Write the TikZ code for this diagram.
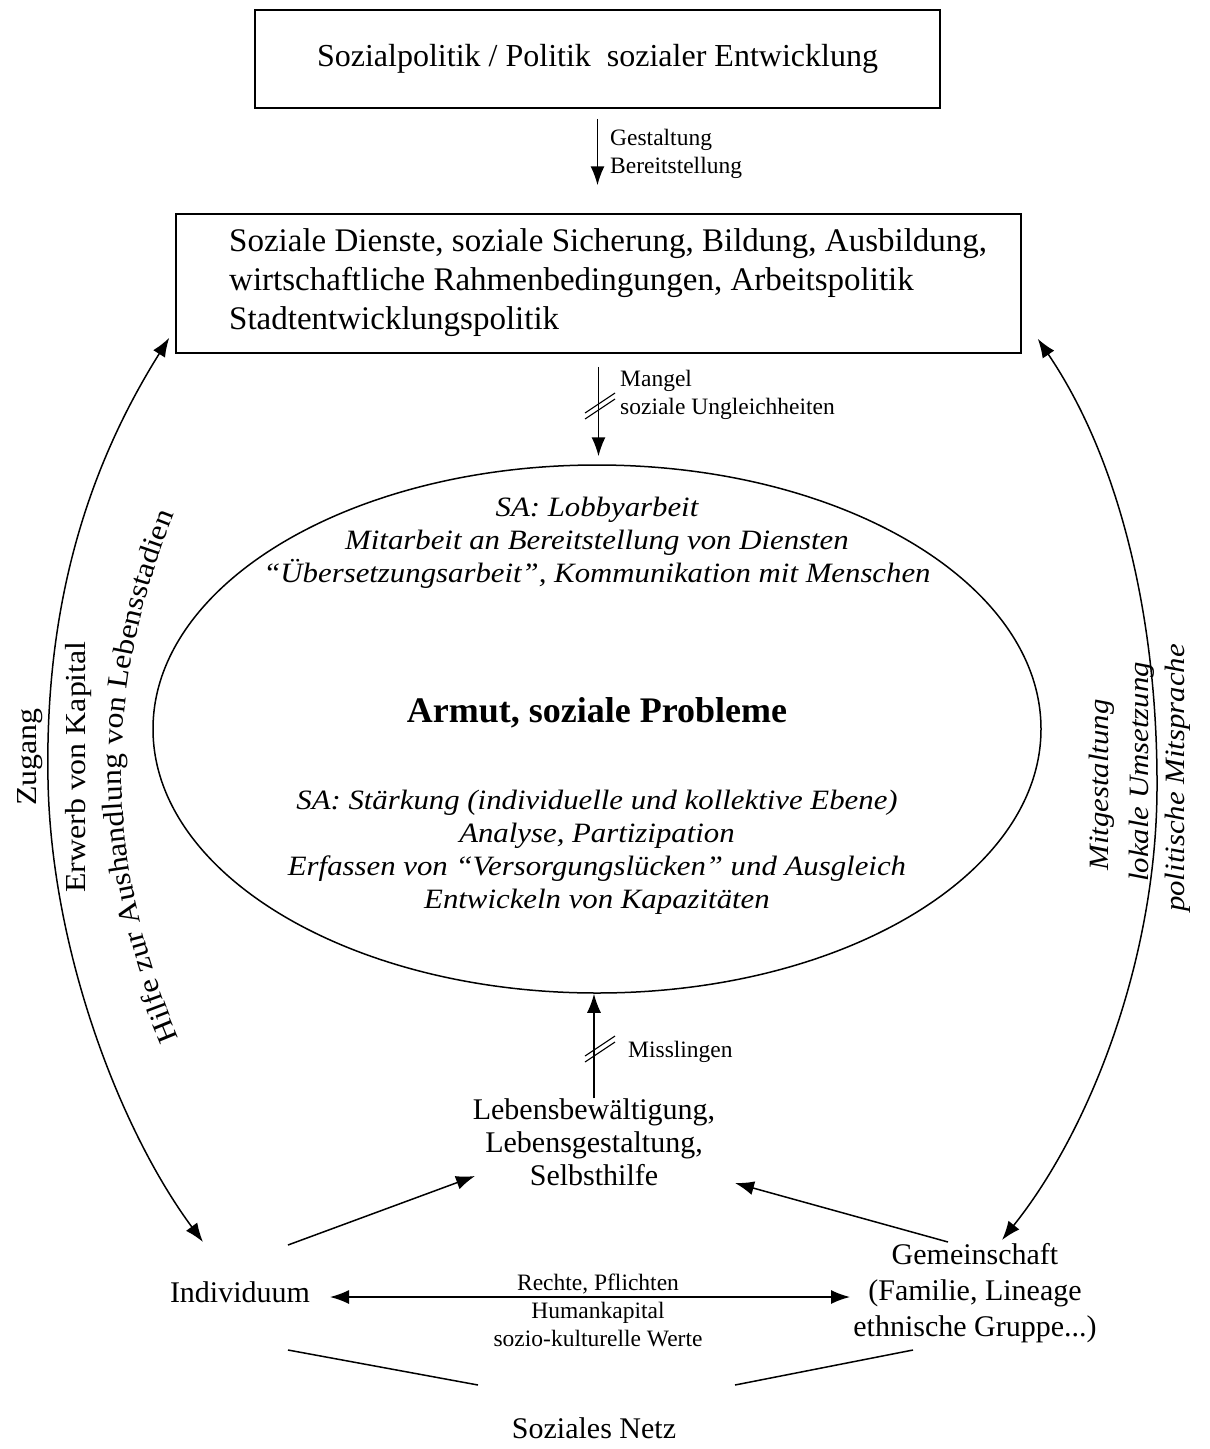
\documentclass[tikz,border=0pt]{standalone}
\usepackage{fontspec}
\setmainfont{Liberation Serif}
\newfontfamily\widef{Liberation Serif}[FakeStretch=1.1]
\usetikzlibrary{arrows.meta, shapes.geometric, decorations.text}
\newcommand\setfs[2]{\fontsize{#1}{#2}\selectfont}
\begin{document}
\begin{tikzpicture}[x=1pt, y=-1pt,
  lw/.style={line width=1.5pt},
  boxst/.style={draw, lw, inner sep=0pt},
  arr/.style={lw, -{Latex[length=19pt,width=14pt]}},
  dbl/.style={lw, {Latex[length=19pt,width=14pt]}-{Latex[length=19pt,width=14pt]}},
  plain/.style={lw},
  brk/.style={line width=1.1pt},
  lab/.style={font=\setfs{23.5}{28}, inner sep=0pt},
  big/.style={font=\setfs{30}{33}, inner sep=0pt},
  itx/.style={font=\widef\itshape\setfs{28}{33}, inner sep=0pt, align=center},
  side/.style={font=\widef\setfs{29}{32}, inner sep=0pt, rotate=90},
  sideit/.style={font=\widef\itshape\setfs{28}{32}, inner sep=0pt, rotate=90}
]
\useasboundingbox (0,0) rectangle (1210,1449);

% top box
\node[boxst, minimum width=685pt, minimum height=98pt, font=\setfs{32}{36}] (box1) at (597.5,59) {Sozialpolitik / Politik\ \ sozialer Entwicklung};

% second box
\node[boxst, minimum width=845pt, minimum height=139pt] (box2) at (598.5,283.5) {};
\node[anchor=west, align=left, font=\setfs{33}{39}, inner sep=0pt] (box2txt) at (229,283) {Soziale Dienste, soziale Sicherung, Bildung, Ausbildung,\\wirtschaftliche Rahmenbedingungen, Arbeitspolitik\\Stadtentwicklungspolitik};

% ellipse
\node[draw, lw, ellipse, minimum width=888pt, minimum height=528pt, inner sep=0pt] (ell) at (597,729) {};
\node[itx] (satop) at (597,543) {SA: Lobbyarbeit\\Mitarbeit an Bereitstellung von Diensten\\“Übersetzungsarbeit”, Kommunikation mit Menschen};
\node[font=\bfseries\setfs{36}{40}, inner sep=0pt] (armut) at (597,713) {Armut, soziale Probleme};
\node[itx] (sabot) at (597,852) {SA: Stärkung (individuelle und kollektive Ebene)\\Analyse, Partizipation\\Erfassen von “Versorgungslücken” und Ausgleich\\Entwickeln von Kapazitäten};

% lower nodes
\node[big, align=center] (lebens) at (594,1142) {Lebensbewältigung,\\Lebensgestaltung,\\Selbsthilfe};
\node[big] (indiv) at (240,1292) {Individuum};
\node[big, align=center, font=\setfs{30}{36}] (gem) at (975,1293) {Gemeinschaft\\(Familie, Lineage\\ethnische Gruppe...)};
\node[big] (netz) at (594,1428) {Soziales Netz};

% labels
\node[lab, anchor=west, align=left] (gl) at (610,154) {Gestaltung\\Bereitstellung};
\node[lab, anchor=west, align=left] (ml) at (620,395) {Mangel\\soziale Ungleichheiten};
\node[lab, anchor=west] (mis) at (628,1052) {Misslingen};
\node[lab, align=center] (rp) at (598,1310) {Rechte, Pflichten\\Humankapital\\sozio-kulturelle Werte};

% side labels
\node[side] (zug) at (30,757) {Zugang};
\node[side] (erw) at (79,767) {Erwerb von Kapital};
\path[decorate, decoration={text along path, text align=center, text={|\widef\setfs{29}{32}|Hilfe zur Aushandlung von Lebensstadien}}] (203,1090) .. controls (98,880) and (93,680) .. (197,462);
\node[sideit] (mitg) at (1102,785) {Mitgestaltung};
\node[sideit] (lok) at (1142,772) {lokale Umsetzung};
\node[sideit] (polm) at (1178,778) {politische Mitsprache};

% vertical arrows
\draw[arr, shorten <=10pt, shorten >=28pt] (box1.south) -- (box1.south |- box2.north);
\draw[arr, shorten <=13pt, shorten >=8pt] (box2.south) -- (box2.south |- ell.north);
\draw[arr] (lebens.north) -- (lebens.north |- ell.south);

% break marks
\draw[brk] (585,413) -- (615,393);
\draw[brk] (585,419) -- (615,399);
\draw[brk] (585,1056) -- (615,1036);
\draw[brk] (585,1062) -- (615,1042);

% arrows to Lebensbewaeltigung
\draw[arr] ([shift={(48,-47)}]indiv.center) -- ([shift={(-119,34)}]lebens.center);
\draw[arr] ([shift={(-27,-51)}]gem.center) -- ([shift={(141,41)}]lebens.center);

% double arrow between Individuum and Gemeinschaft
\draw[dbl] ([shift={(90,5)}]indiv.center) -- ([shift={(-125,4)}]gem.center);

% lines to Soziales Netz
\draw[plain] ([shift={(48,58)}]indiv.center) -- ([shift={(-116,-43)}]netz.center);
\draw[plain] ([shift={(-62,57)}]gem.center) -- ([shift={(141,-43)}]netz.center);

% side curves
\draw[dbl] ([shift={(-6,-16)}]box2.south west) .. controls (80,480) and (45,620) .. (48,780) .. controls (51,950) and (120,1130) .. ([shift={(-37,-50)}]indiv.center);
\draw[dbl] ([shift={(16,-15)}]box2.south east) .. controls (1120,460) and (1158,620) .. (1157,790) .. controls (1156,960) and (1090,1130) .. ([shift={(27,-53)}]gem.center);
\end{tikzpicture}
\end{document}
